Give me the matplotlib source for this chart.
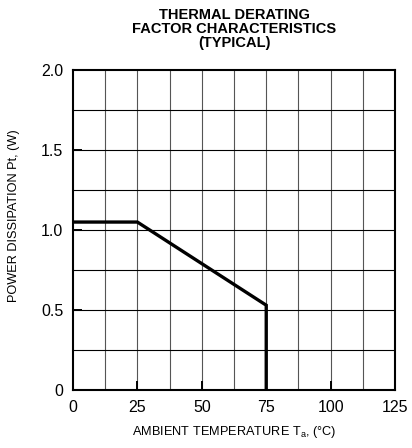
import matplotlib
matplotlib.use("Agg")
import matplotlib.pyplot as plt
import numpy as np

# derating curve
TEMP_C = [0, 25, 75, 75]
POWER_W = [1.05, 1.05, 0.53, 0.0]

X_TICKS = [0, 25, 50, 75, 100, 125]
Y_TICKS = [0, 0.5, 1.0, 1.5, 2.0]
Y_TICK_LABELS = ["0", "0.5", "1.0", "1.5", "2.0"]

plt.rcParams["font.family"] = ["Liberation Sans", "DejaVu Sans"]
plt.rcParams["mathtext.fontset"] = "custom"
plt.rcParams["mathtext.rm"] = "Liberation Sans"
plt.rcParams["mathtext.it"] = "Liberation Sans"

fig = plt.figure(figsize=(4.12, 4.48), dpi=100)
ax = fig.add_axes([0.177, 0.1295, 0.782, 0.714])

# grid: vertical every 12.5 (gray), horizontal every 0.25 (black)
for x in np.arange(12.5, 125, 12.5):
    ax.axvline(x, color="#555555", linewidth=0.8, zorder=1)
for y in np.arange(0.25, 2.0, 0.25):
    ax.axhline(y, color="black", linewidth=0.8, zorder=1)

ax.plot(TEMP_C, POWER_W, color="black", linewidth=2.4, solid_joinstyle="miter", zorder=3)

ax.set_xlim(0, 125)
ax.set_ylim(0, 2.0)
ax.set_xticks(X_TICKS)
ax.set_yticks(Y_TICKS)
ax.set_yticklabels(Y_TICK_LABELS)
ax.tick_params(direction="in", length=6.5, width=1.4, labelsize=11.5, pad=7)

for s in ax.spines.values():
    s.set_linewidth(1.5)

ax.set_xlabel(r"AMBIENT TEMPERATURE T$_{\mathregular{a}}$, (°C)", fontsize=9.2)
ax.xaxis.set_label_coords(0.5, -0.105)
ax.set_ylabel("POWER DISSIPATION Pt, (W)", fontsize=9.2)
ax.yaxis.set_label_coords(-0.165, 0.545)
ax.set_title("THERMAL DERATING\nFACTOR CHARACTERISTICS\n(TYPICAL)",
             fontsize=10.5, fontweight="bold", linespacing=1.0, pad=17)

fig.savefig("out.png", dpi=100)
